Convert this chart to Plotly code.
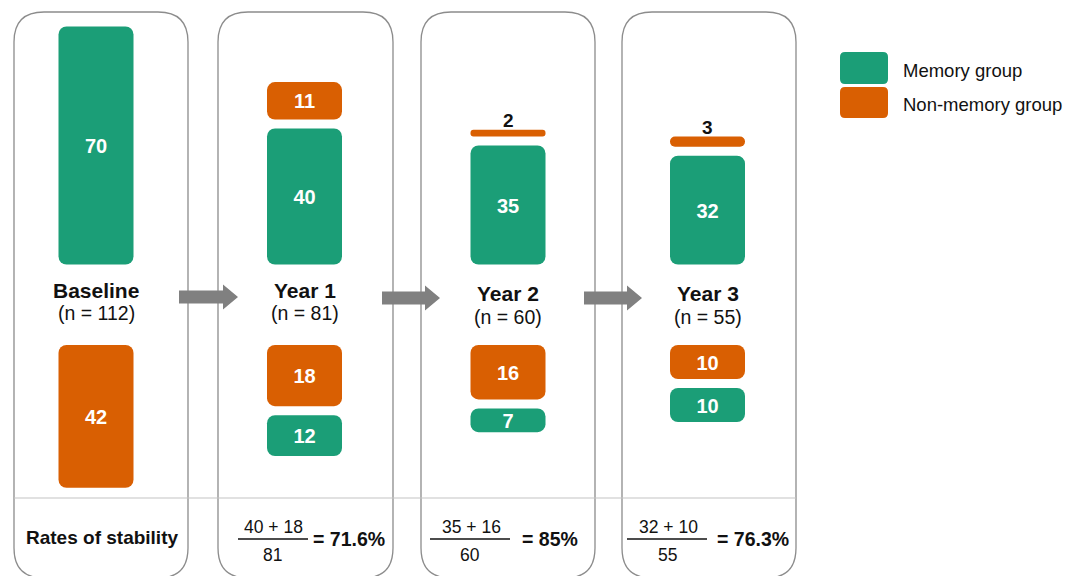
import plotly.graph_objects as go

# ---- data -------------------------------------------------------------
stages = ["Baseline", "Year 1", "Year 2", "Year 3"]
n_total = [112, 81, 60, 55]
# upper block: classified as memory group at that wave
mem_from_mem = [70, 40, 35, 32]   # green: memory group before
mem_from_non = [0, 11, 2, 3]      # orange: non-memory group before
# lower block: classified as non-memory group at that wave
non_from_non = [42, 18, 16, 10]   # orange
non_from_mem = [0, 12, 7, 10]     # green
stability_num = [(40, 18), (35, 16), (32, 10)]
stability_den = [81, 60, 55]
stability_rate = ["71.6%", "85%", "76.3%"]
legend_labels = ["Memory group", "Non-memory group"]

# ---- layout constants ---------------------------------------------------
W, H = 1085, 576
PX = 3.4                 # pixels per participant
GREEN = "#1b9e77"
ORANGE = "#d95f02"
GREY = "#8c8c8c"
FONT = "Liberation Sans, Arial, Helvetica, sans-serif"
col_x = [96, 304.5, 508, 707.5]
panels = [(14, 188), (218, 393), (421, 595), (622, 796)]
BAR_W = 75
UPPER_BOTTOM = 264.5     # pixel row where the upper block sits
LOWER_TOP = 345          # pixel row where the lower block hangs from
GAP = 9 / PX
LABEL_DROP = 2.5 / PX    # nudge in-bar labels slightly below centre


def u(p):
    """pixel row -> count units on the y axis"""
    return (H - p) / PX


def yp(p):
    """pixel row -> paper coordinate"""
    return 1 - p / H


def rrect(x0, y0, x1, y1, r):
    pts = [
        f"M{x0 + r},{yp(y0)}", f"L{x1 - r},{yp(y0)}", f"Q{x1},{yp(y0)} {x1},{yp(y0 + r)}",
        f"L{x1},{yp(y1 - r)}", f"Q{x1},{yp(y1)} {x1 - r},{yp(y1)}",
        f"L{x0 + r},{yp(y1)}", f"Q{x0},{yp(y1)} {x0},{yp(y1 - r)}",
        f"L{x0},{yp(y0 + r)}", f"Q{x0},{yp(y0)} {x0 + r},{yp(y0)}", "Z",
    ]
    return " ".join(pts)


fig = go.Figure()


def add_bars(xs, vals, bases, color):
    keep = [(x, v, b) for x, v, b in zip(xs, vals, bases) if v > 0]
    xs_, vs_, bs_ = zip(*keep)
    fig.add_trace(go.Bar(
        x=list(xs_), y=list(vs_), base=list(bs_), width=BAR_W,
        marker=dict(color=color, cornerradius=8, line_width=0),
        hoverinfo="skip", showlegend=False,
    ))
    return list(xs_), list(vs_), list(bs_)


base_u = u(UPPER_BOTTOM)
top_u = u(LOWER_TOP)

g_up = add_bars(col_x, mem_from_mem, [base_u] * 4, GREEN)
o_up = add_bars(col_x, mem_from_non,
                [base_u + m + GAP for m in mem_from_mem], ORANGE)
o_lo = add_bars(col_x, non_from_non, [top_u - n for n in non_from_non], ORANGE)
g_lo = add_bars(col_x, non_from_mem,
                [top_u - n - GAP - g for n, g in zip(non_from_non, non_from_mem)], GREEN)

# value labels: inside the bar when it is tall enough, above it otherwise
in_x, in_y, in_t = [], [], []
annotations = []
for xs, vs, bs in (g_up, o_up, o_lo, g_lo):
    for x, v, b in zip(xs, vs, bs):
        if v * PX >= 20:
            in_x.append(x)
            in_y.append(b + v / 2 - LABEL_DROP)
            in_t.append(f"<b>{v}</b>")
        else:
            annotations.append(dict(
                x=x, y=b + v + 9 / PX, xref="x", yref="y", text=f"<b>{v}</b>",
                showarrow=False, xanchor="center", yanchor="middle",
                font=dict(size=19, color="#111111", family=FONT)))
fig.add_trace(go.Scatter(
    x=in_x, y=in_y, text=in_t, mode="text", textposition="middle center",
    textfont=dict(size=20, color="white", family=FONT),
    hoverinfo="skip", showlegend=False,
))

shapes = []
# stage panels
for x0, x1 in panels:
    shapes.append(dict(type="path", path=rrect(x0, 12, x1, 578, 30),
                       xref="x", yref="paper", layer="below",
                       line=dict(color=GREY, width=1.3), fillcolor="rgba(0,0,0,0)"))
# divider above the stability row
shapes.append(dict(type="line", x0=14, x1=796, y0=yp(498), y1=yp(498),
                   xref="x", yref="paper", layer="below",
                   line=dict(color="#c4c4c4", width=1.2)))
# arrows between panels
for x0, xh, tip, cy in [(179, 223, 238, 297), (382, 425, 440, 298), (584, 627, 642, 298)]:
    path = (f"M{x0},{yp(cy - 6.5)} L{xh},{yp(cy - 6.5)} L{xh},{yp(cy - 12.5)} "
            f"L{tip},{yp(cy)} L{xh},{yp(cy + 12.5)} L{xh},{yp(cy + 6.5)} "
            f"L{x0},{yp(cy + 6.5)} Z")
    shapes.append(dict(type="path", path=path, xref="x", yref="paper",
                       layer="above", line=dict(width=0), fillcolor="#808080"))

# stage headings
head_y = [(290, 313), (290, 313), (293, 317), (293, 317)]
for x, name, n, (y1, y2) in zip(col_x, stages, n_total, head_y):
    annotations.append(dict(x=x, y=yp(y1), xref="x", yref="paper",
                            text=f"<b>{name}</b>", showarrow=False,
                            xanchor="center", yanchor="middle",
                            font=dict(size=21, color="#111111", family=FONT)))
    annotations.append(dict(x=x, y=yp(y2), xref="x", yref="paper",
                            text=f"(n = {n})", showarrow=False,
                            xanchor="center", yanchor="middle",
                            font=dict(size=19.5, color="#111111", family=FONT)))

# stability row
annotations.append(dict(x=102, y=yp(537), xref="x", yref="paper",
                        text="<b>Rates of stability</b>", showarrow=False,
                        xanchor="center", yanchor="middle",
                        font=dict(size=19, color="#111111", family=FONT)))
frac_pos = [(238, 308, 273, 349), (430, 510, 471, 550), (627, 707, 668, 753)]
for (a, b), den, rate, (lx0, lx1, cx, rx) in zip(stability_num, stability_den,
                                                  stability_rate, frac_pos):
    shapes.append(dict(type="line", x0=lx0, x1=lx1, y0=yp(539), y1=yp(539),
                       xref="x", yref="paper", line=dict(color="#111111", width=1.4)))
    annotations.append(dict(x=cx, y=yp(527), xref="x", yref="paper",
                            text=f"{a} + {b}", showarrow=False,
                            xanchor="center", yanchor="middle",
                            font=dict(size=17.5, color="#111111", family=FONT)))
    annotations.append(dict(x=cx - 1, y=yp(555), xref="x", yref="paper",
                            text=f"{den}", showarrow=False,
                            xanchor="center", yanchor="middle",
                            font=dict(size=17.5, color="#111111", family=FONT)))
    annotations.append(dict(x=rx, y=yp(539), xref="x", yref="paper",
                            text=f"<b>= {rate}</b>", showarrow=False,
                            xanchor="center", yanchor="middle",
                            font=dict(size=19.5, color="#111111", family=FONT)))

# legend
for (y0, y1, ty), color, label in zip([(52, 84, 71), (87, 118, 105)],
                                      [GREEN, ORANGE], legend_labels):
    shapes.append(dict(type="path", path=rrect(840, y0, 888, y1, 5),
                       xref="x", yref="paper", line=dict(width=0), fillcolor=color))
    annotations.append(dict(x=901, y=yp(ty), xref="x", yref="paper",
                            text=label, showarrow=False,
                            xanchor="left", yanchor="middle",
                            font=dict(size=18.5, color="#111111", family=FONT)))

fig.update_layout(
    width=W, height=H, autosize=False,
    margin=dict(l=0, r=0, t=0, b=0, pad=0),
    paper_bgcolor="white", plot_bgcolor="white",
    barmode="overlay",
    xaxis=dict(range=[0, W], visible=False, fixedrange=True),
    yaxis=dict(range=[0, H / PX], visible=False, fixedrange=True),
    shapes=shapes, annotations=annotations,
    font=dict(family=FONT),
)

fig.write_html("out.html", config={"displayModeBar": False})
